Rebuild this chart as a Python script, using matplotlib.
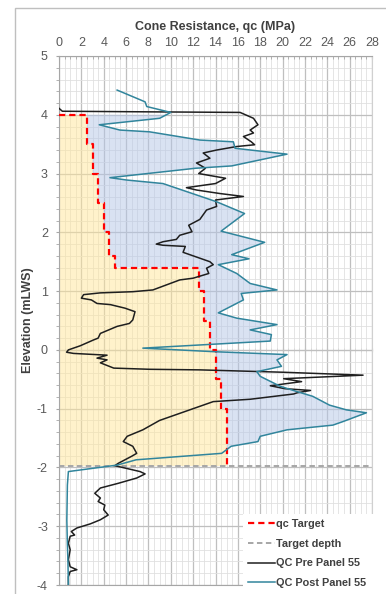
"""Cone resistance profile: pre/post panel CPT against qc target."""

import matplotlib

matplotlib.use("Agg")
import matplotlib.pyplot as plt
import numpy as np
from matplotlib.patches import Rectangle
from matplotlib.ticker import MultipleLocator

plt.rcParams["font.family"] = ["Liberation Sans", "DejaVu Sans"]
plt.rcParams["axes.unicode_minus"] = False

# qc target, stepped: boundaries (mLWS) and qc (MPa) for each interval
target_elev = [4.0, 3.5, 3.0, 2.5, 2.0, 1.6, 1.4, 1.0, 0.5, 0.0, -0.5, -1.0, -1.97]
target_qc = [2.5, 3.0, 3.5, 4.0, 4.5, 5.0, 12.5, 13.0, 13.5, 14.0, 14.5, 15.0]
target_depth = -1.97

# QC Pre Panel 55
pre_qc = [0.0, 0.3, 8.0, 16.2, 17.4, 17.8, 17.1, 17.4, 16.5, 17.2, 17.5, 15.9,
          14.1, 12.9, 13.5, 12.3, 13.1, 12.5, 14.9, 14.0, 11.4, 12.3, 14.4, 16.5,
          14.0, 14.1, 13.2, 12.6, 11.6, 11.9, 10.8, 10.5, 9.3, 8.7, 9.3, 11.3,
          11.1, 12.0, 12.6, 13.5, 13.8, 13.2, 13.4, 12.0, 10.8, 8.4, 6.6, 3.7,
          2.2, 2.0, 2.9, 3.4, 4.6, 5.9, 6.8, 6.6, 6.3, 5.2, 3.7, 3.5, 3.1, 1.9,
          0.84, 0.68, 1.3, 4.3, 3.4, 4.3, 3.7, 4.9, 8.1, 12.6, 20.0, 27.2, 20.1,
          21.7, 18.9, 20.2, 22.5, 21.3, 21.0, 17.1, 13.8, 12.9, 10.8, 9.0, 7.5,
          6.1, 5.75, 6.6, 6.95, 6.5, 5.3, 5.0, 5.45, 7.25, 7.7, 6.95, 5.3, 3.7,
          3.2, 3.7, 3.5, 4.1, 4.0, 4.4, 3.7, 2.8, 1.6, 1.1, 1.4, 1.0, 0.84, 1.0,
          0.84, 1.0, 1.6, 1.0, 0.84, 0.84]
pre_elev = [4.11, 4.06, 4.05, 4.04, 3.94, 3.83, 3.74, 3.69, 3.63, 3.54, 3.49,
            3.46, 3.40, 3.35, 3.26, 3.18, 3.09, 3.00, 2.92, 2.83, 2.76, 2.72,
            2.66, 2.61, 2.55, 2.44, 2.38, 2.22, 2.12, 2.01, 1.95, 1.88, 1.84,
            1.80, 1.78, 1.76, 1.66, 1.60, 1.56, 1.50, 1.45, 1.39, 1.30, 1.22,
            1.19, 1.02, 0.99, 0.97, 0.94, 0.88, 0.85, 0.79, 0.77, 0.71, 0.65,
            0.51, 0.45, 0.40, 0.28, 0.20, 0.17, 0.07, 0.00, -0.04, -0.06, -0.09,
            -0.14, -0.17, -0.22, -0.31, -0.33, -0.34, -0.38, -0.43, -0.49, -0.54,
            -0.61, -0.66, -0.69, -0.73, -0.75, -0.84, -0.88, -0.94, -1.08, -1.20,
            -1.36, -1.47, -1.56, -1.64, -1.76, -1.81, -1.93, -1.97, -1.99, -2.07,
            -2.11, -2.18, -2.27, -2.35, -2.44, -2.52, -2.58, -2.64, -2.72, -2.81,
            -2.89, -2.96, -3.03, -3.09, -3.15, -3.17, -3.29, -3.40, -3.57, -3.69,
            -3.74, -3.77, -3.86, -4.0]

# QC Post Panel 55
post_qc = [5.2, 7.7, 7.85, 10.0, 9.0, 3.6, 5.45, 8.1, 12.6, 15.6, 15.75, 20.4,
           15.45, 12.2, 4.56, 6.05, 9.3, 14.1, 16.6, 14.5, 18.4, 15.45, 17.0,
           14.25, 15.9, 17.1, 19.5, 16.3, 16.5, 14.25, 15.9, 19.5, 17.1, 19.0,
           18.9, 7.5, 13.8, 20.4, 19.5, 19.9, 17.7, 18.0, 19.8, 21.3, 22.7, 24.2,
           25.7, 27.5, 25.4, 24.5, 20.4, 18.0, 17.8, 15.4, 14.55, 6.9, 5.2, 0.84,
           0.75, 0.7, 0.75, 0.8, 0.84]
post_elev = [4.42, 4.22, 4.14, 4.04, 3.94, 3.83, 3.74, 3.71, 3.57, 3.54, 3.43,
             3.33, 3.13, 3.09, 2.93, 2.89, 2.83, 2.52, 2.32, 2.02, 1.83, 1.62,
             1.55, 1.45, 1.30, 1.13, 1.02, 0.96, 0.85, 0.63, 0.54, 0.43, 0.34,
             0.26, 0.15, 0.03, -0.03, -0.08, -0.17, -0.28, -0.37, -0.45, -0.62,
             -0.71, -0.79, -0.94, -1.02, -1.07, -1.22, -1.28, -1.36, -1.47, -1.56,
             -1.64, -1.76, -1.87, -1.96, -2.07, -2.30, -2.90, -3.30, -3.60, -4.0]

TEXT = "#595959"
LABEL = "#404040"


def _target_step():
    """Step-line coordinates of the qc target."""
    xs, ys = [0.0], [target_elev[0]]
    for i, q in enumerate(target_qc):
        xs += [q, q]
        ys += [target_elev[i], target_elev[i + 1]]
    return np.array(xs), np.array(ys)


def _target_at(y):
    edges = -np.asarray(target_elev)
    idx = np.searchsorted(edges, -y, side="right") - 1
    idx = np.clip(idx, 0, len(target_qc) - 1)
    return np.asarray(target_qc)[idx]


fig = plt.figure(figsize=(3.86, 5.94), dpi=100)
ax = fig.add_axes([59 / 386, 1 - 585 / 594, (372 - 59) / 386, (585 - 56) / 594])

step_x, step_y = _target_step()

# translucent fills drawn over the grid so the grid shows through tinted
ax.fill_betweenx(step_y[1:], 0, step_x[1:], color="#FFE699", alpha=0.5,
                 lw=0, zorder=1)
y_fill = np.linspace(target_depth, target_elev[0], 4000)
post_fill = np.interp(y_fill, post_elev[::-1], post_qc[::-1])
tgt_fill = _target_at(y_fill)
ax.fill_betweenx(y_fill, tgt_fill, post_fill, where=post_fill >= tgt_fill,
                 interpolate=True, color="#B4C6E7", alpha=0.5, lw=0, zorder=1)

ax.plot(step_x, step_y, color="#FF0000", lw=1.6, ls=(0, (2.8, 1.8)),
        label="qc Target", zorder=4)
ax.axhline(target_depth, color="#A6A6A6", lw=1.4, ls=(0, (2.8, 1.8)),
           label="Target depth", zorder=3)
ax.plot(pre_qc, pre_elev, color="#1F1F1F", lw=1.1, label="QC Pre Panel 55",
        zorder=5)
ax.plot(post_qc, post_elev, color="#31859C", lw=1.1, label="QC Post Panel 55",
        zorder=5)

ax.set_xlim(0, 28)
ax.set_ylim(-4, 5)
ax.xaxis.set_major_locator(MultipleLocator(2))
ax.xaxis.set_minor_locator(MultipleLocator(0.5))
ax.yaxis.set_major_locator(MultipleLocator(1))
ax.yaxis.set_minor_locator(MultipleLocator(0.2))
ax.grid(which="major", color="#BFBFBF", lw=0.9)
ax.grid(which="minor", color="#E0E0E0", lw=0.6)
ax.set_axisbelow(True)

ax.xaxis.tick_top()
ax.xaxis.set_label_position("top")
ax.set_xlabel("Cone Resistance, qc (MPa)", fontsize=9, fontweight="bold",
              color=LABEL, labelpad=5)
ax.set_ylabel("Elevation (mLWS)", fontsize=9, fontweight="bold", color=LABEL)
ax.yaxis.set_label_coords(-0.08, 0.5)
ax.tick_params(axis="x", which="both", direction="in", length=2.5,
               color="#A6A6A6", labelsize=9, labelcolor=TEXT, pad=5)
ax.tick_params(axis="y", which="both", direction="out", length=2,
               color="#A6A6A6", labelsize=9, labelcolor=TEXT, pad=6)
for side in ("left", "top", "bottom"):
    ax.spines[side].set_color("#A6A6A6")
ax.spines["right"].set_color("#D0D0D0")

# horizontal axis line crossing at elevation 0
zero = ax.secondary_xaxis(4 / 9)
zero.spines["bottom"].set_color("#A6A6A6")
zero.spines["top"].set_color("#A6A6A6")
zero.xaxis.set_major_locator(MultipleLocator(2))
zero.xaxis.set_minor_locator(MultipleLocator(0.5))
zero.tick_params(which="both", direction="inout", length=3, color="#A6A6A6",
                 labelbottom=False, labeltop=False)

leg = ax.legend(loc="upper left", bbox_to_anchor=(243 / 386, 0, 143 / 386, 1 - 514 / 594),
                bbox_transform=fig.transFigure, mode="expand", borderaxespad=0,
                frameon=True, fancybox=False, framealpha=1, edgecolor="none",
                facecolor="white", prop={"size": 7.8, "weight": "bold"},
                handlelength=2.5, handletextpad=0.1, labelspacing=0.9,
                borderpad=0.45)
for t in leg.get_texts():
    t.set_color(LABEL)
leg.set_zorder(10)

# outer chart frame
fig.patches.append(Rectangle((14.5 / 386, -0.1), 1.2, 1.1 - 8.5 / 594,
                             transform=fig.transFigure, fill=False,
                             edgecolor="#BFBFBF", lw=1))

fig.savefig("out.png", dpi=100)
